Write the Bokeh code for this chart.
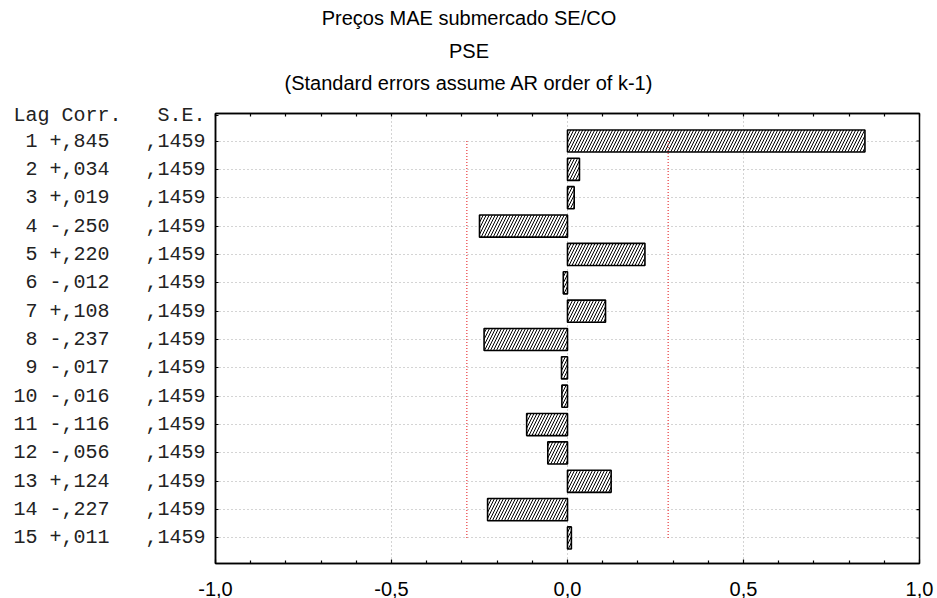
import math
from bokeh.plotting import figure
from bokeh.models import Range1d, FixedTicker, LinearAxis
from bokeh.embed import file_html
from bokeh.resources import INLINE

# ---- data ----
lags = [1, 2, 3, 4, 5, 6, 7, 8, 9, 10, 11, 12, 13, 14, 15]
corr = [0.845, 0.034, 0.019, -0.250, 0.220, -0.012, 0.108, -0.237,
        -0.017, -0.016, -0.116, -0.056, 0.124, -0.227, 0.011]
se = [0.1459, 0.1459, 0.1459, 0.1459, 0.1459, 0.1459, 0.1459, 0.1459,
      0.1459, 0.1459, 0.1459, 0.1459, 0.1459, 0.1459, 0.1459]
crit = 1.96
x_ticks = [-1.0, -0.5, 0.0, 0.5, 1.0]
x_tick_labels = ["-1,0", "-0,5", "0,0", "0,5", "1,0"]
x_minor = [-0.9, -0.8, -0.7, -0.6, -0.4, -0.3, -0.2, -0.1,
           0.1, 0.2, 0.3, 0.4, 0.6, 0.7, 0.8, 0.9]
title_lines = ["Preços MAE submercado SE/CO", "PSE",
               "(Standard errors assume AR order of k-1)"]
header = "Lag Corr.   S.E."

NB = "\u00a0"
row_labels = []
for l, c, s in zip(lags, corr, se):
    sign = "+" if c >= 0 else "-"
    txt = f"{l:2d} {sign},{round(abs(c) * 1000):03d}   ,{round(s * 10000):04d}"
    row_labels.append(txt.replace(" ", NB))

MONO = "Liberation Mono"
SANS = "Liberation Sans"

X0, X1 = -1.0, 1.0
p = figure(width=937, height=598, output_backend="svg", toolbar_location=None,
           title=None, x_range=Range1d(X0, X1), y_range=Range1d(15.9, 0.03),
           min_border_left=215, min_border_top=113, min_border_right=18,
           min_border_bottom=34)
p.background_fill_color = "white"
p.border_fill_color = "white"
p.outline_line_color = "black"
p.outline_line_width = 1.5

xt = FixedTicker(ticks=x_ticks, minor_ticks=x_minor)
yt = FixedTicker(ticks=lags, minor_ticks=[])

# bottom axis
xa = p.xaxis[0]
xa.ticker = xt
xa.major_label_overrides = {t: s for t, s in zip(x_ticks, x_tick_labels)}
xa.major_label_text_font = SANS
xa.major_label_text_font_size = "20px"
xa.major_label_text_color = "black"
xa.major_label_text_line_height = 0.6
xa.major_label_standoff = 18
xa.major_tick_out = 0
xa.major_tick_in = 4
xa.minor_tick_out = 0
xa.minor_tick_in = 3
xa.axis_line_width = 1.5
xa.major_tick_line_width = 1.2
xa.minor_tick_line_width = 1.2

# left axis with text rows (+ header row just under the top edge)
head_pos = 0.1
ya = p.yaxis[0]
ya.ticker = FixedTicker(ticks=[head_pos] + lags, minor_ticks=[])
ov = {l: s for l, s in zip(lags, row_labels)}
ov[head_pos] = header.replace(" ", NB)
ya.major_label_overrides = ov
ya.major_label_text_font = MONO
ya.major_label_text_font_size = "20px"
ya.major_label_text_color = "#222222"
ya.major_label_standoff = 10
ya.major_tick_out = 0
ya.major_tick_in = 3
ya.minor_tick_out = 0
ya.minor_tick_in = 0
ya.axis_line_width = 1.5

# top: axis with minor ticks and title lines as labels
xc = X0 + (X1 - X0) * (468.5 - 215) / 704
all_top = sorted(x_ticks + x_minor)
standoffs = [20, 7, 8]
for i, (line, so) in enumerate(zip(title_lines[::-1], standoffs)):
    ax = LinearAxis(ticker=FixedTicker(ticks=[xc], minor_ticks=all_top if i == 0 else []),
                    major_label_overrides={xc: line},
                    major_label_text_font=SANS, major_label_text_font_size="20px",
                    major_label_text_color="black", major_label_standoff=so,
                    major_tick_in=0, major_tick_out=0,
                    minor_tick_in=3 if i == 0 else 0, minor_tick_out=0,
                    minor_tick_line_width=1.2,
                    axis_line_width=1.5,
                    axis_line_color="black" if i == 0 else None)
    p.add_layout(ax, "above")

# right edge ticks
p.ray(x=[X1] * len(lags), y=lags, length=3, length_units="screen", angle=math.pi,
      line_color="black", line_width=1.2)

# grids
p.xgrid.ticker = FixedTicker(ticks=[-0.5, 0.0, 0.5])
p.ygrid.ticker = yt
for g in (p.xgrid[0], p.ygrid[0]):
    g.grid_line_color = "#a8a8a8"
    g.grid_line_dash = "1 3"
    g.grid_line_width = 1

# bars
p.hbar(y=lags, left=0, right=corr, height=0.78,
       fill_color="white", line_color="black", line_width=1.6,
       hatch_pattern="/", hatch_color="black", hatch_scale=6, hatch_weight=1)

# confidence limits
lim = crit * se[0]
p.segment(x0=[-lim, lim], y0=[lags[0], lags[0]], x1=[-lim, lim], y1=[lags[-1], lags[-1]],
          line_color="#e8383b", line_width=1.2, line_dash="1 2")

open("out.html", "w").write(file_html(p, INLINE))
